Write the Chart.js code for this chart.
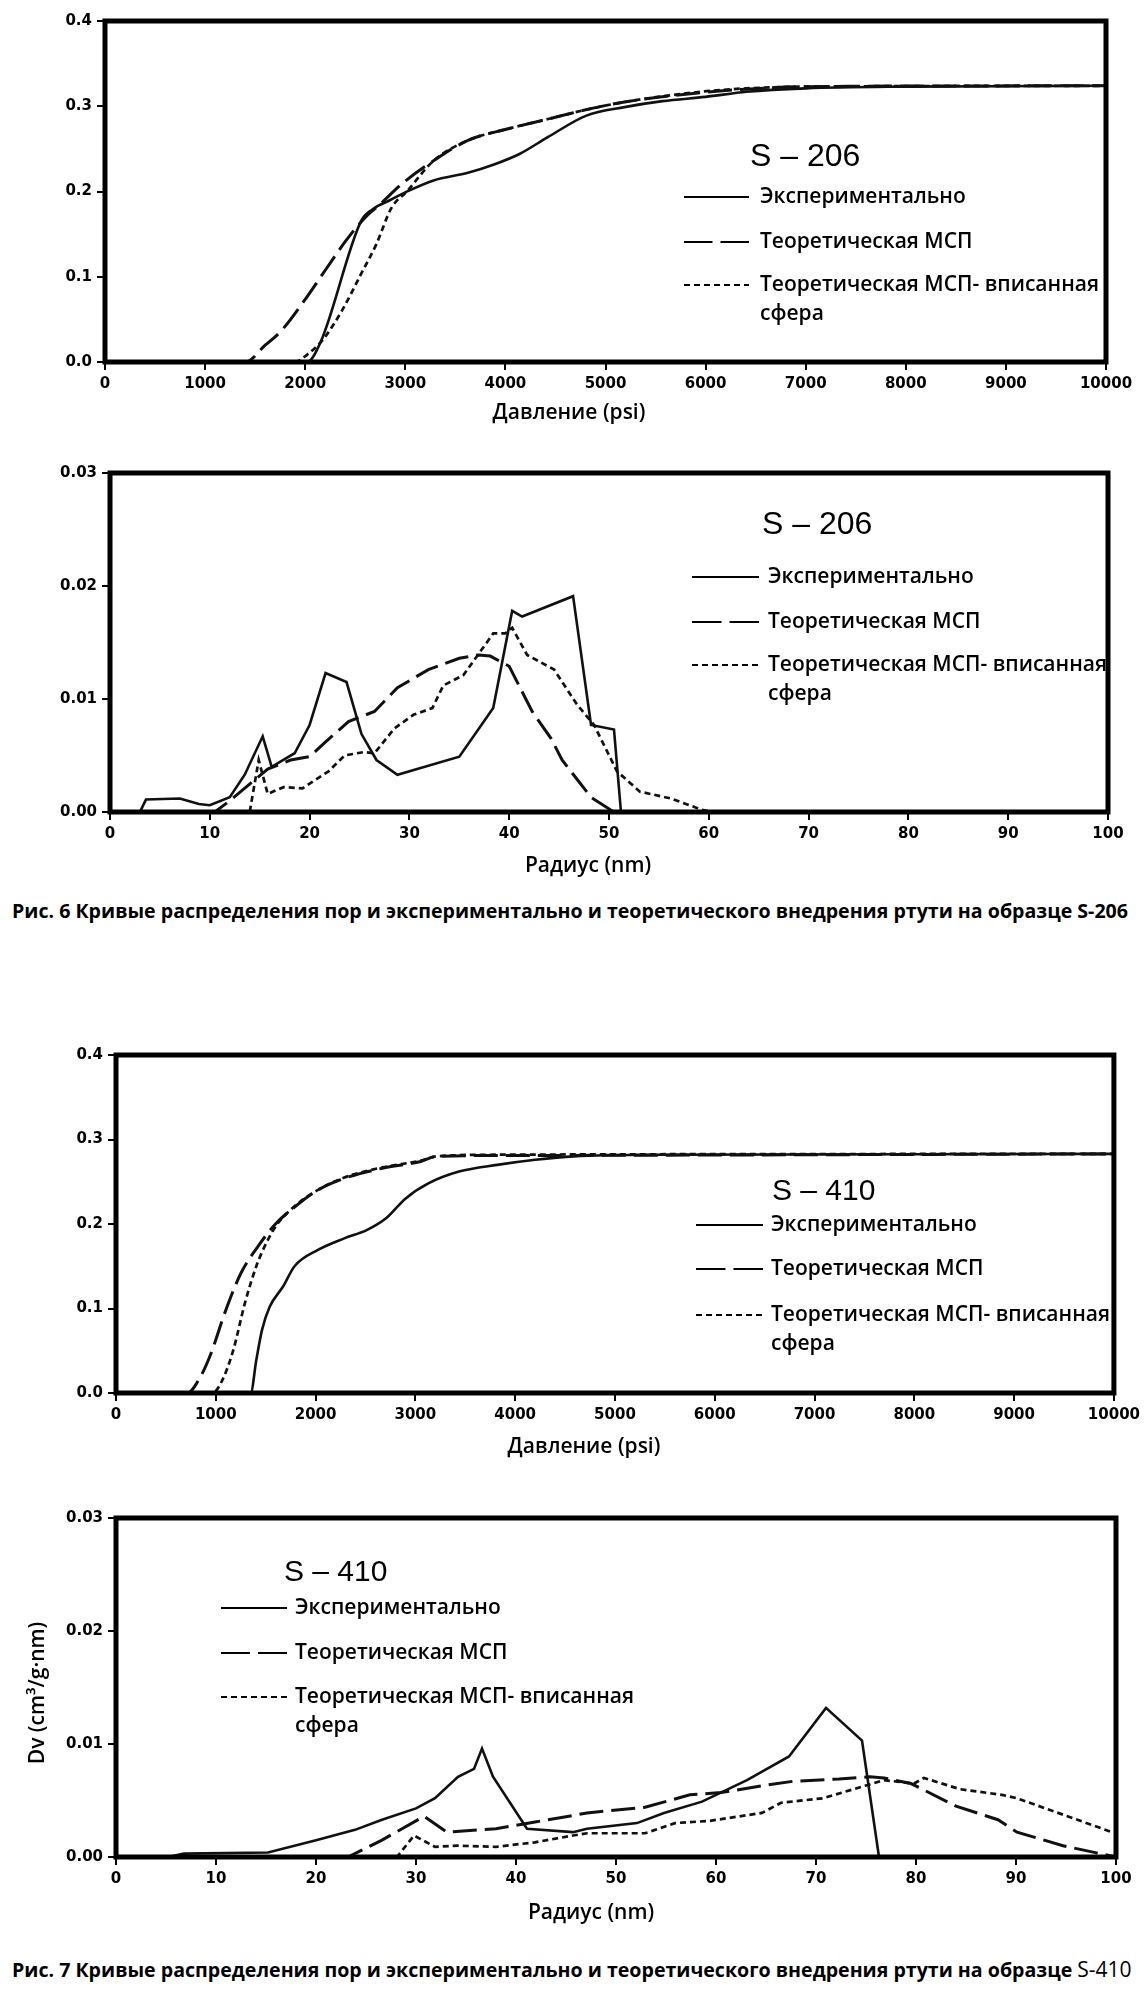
<!DOCTYPE html>
<html lang="ru">
<head>
<meta charset="utf-8">
<title>Кривые распределения пор S-206 / S-410</title>
<script src="https://cdn.jsdelivr.net/npm/chart.js@4.4.1/dist/chart.umd.min.js"></script>
<style>
  html, body { margin: 0; padding: 0; background: #fff; }
  body { position: relative; width: 1145px; height: 1991px; overflow: hidden; font-family: "Open Sans", sans-serif; }
  .plot { position: absolute; left: 0; width: 1145px; height: 440px; }
  .caption { position: absolute; left: 12px; font-weight: 700; font-size: 19.6px; color: #000; white-space: nowrap; line-height: 24px; }
  .caption .tag { font-weight: 400; font-size: 21px; }
</style>
</head>
<body>
<div class="plot" style="top:0"><canvas id="c1" width="1145" height="440"></canvas></div>
<div class="plot" style="top:450px"><canvas id="c2" width="1145" height="440"></canvas></div>
<div class="caption" style="top:899px">Рис. 6 Кривые распределения пор и экспериментально и теоретического внедрения ртути на образце S-206</div>
<div class="plot" style="top:1030px"><canvas id="c3" width="1145" height="440"></canvas></div>
<div class="plot" style="top:1495px"><canvas id="c4" width="1145" height="440"></canvas></div>
<div class="caption" style="top:1957px">Рис. 7 Кривые распределения пор и экспериментально и теоретического внедрения ртути на образце <span class="tag">S-410</span></div>
<script>
// series names (legend)
const seriesNames = ['Экспериментально', 'Теоретическая МСП', 'Теоретическая МСП- вписанная\nсфера'];

// tick labels
const pressTicks = [0, 1000, 2000, 3000, 4000, 5000, 6000, 7000, 8000, 9000, 10000];
const radiusTicks = [0, 10, 20, 30, 40, 50, 60, 70, 80, 90, 100];
const volTicks = [0, 0.1, 0.2, 0.3, 0.4];
const dvTicks = [0, 0.01, 0.02, 0.03];

// S-206: intrusion volume vs pressure (psi)
const exp206P = [[0,0],[2020,0],[2156,0.024],[2557,0.165],[2672,0.179],[2850,0.19],[3000,0.199],[3282,0.213],[3626,0.222],[3893,0.232],[4141,0.244],[4427,0.264],[4809,0.289],[5190,0.299],[5570,0.306],[6000,0.311],[6410,0.317],[7000,0.321],[8000,0.323],[10000,0.324]];
const msp206P = [[0,0],[1400,0],[1603,0.02],[1756,0.036],[1985,0.071],[2214,0.11],[2405,0.142],[2595,0.169],[2748,0.185],[2977,0.21],[3282,0.236],[3626,0.26],[4008,0.273],[4427,0.285],[4809,0.296],[5190,0.305],[5954,0.316],[6410,0.32],[7000,0.323],[10000,0.324]];
const sph206P = [[0,0],[1900,0],[2023,0.009],[2176,0.026],[2366,0.06],[2557,0.103],[2710,0.138],[2863,0.181],[3015,0.2],[3282,0.236],[3626,0.26],[4008,0.273],[4427,0.285],[4809,0.296],[5190,0.305],[5954,0.317],[6410,0.321],[7000,0.323],[10000,0.324]];

// S-206: Dv vs radius (nm)
const exp206R = [[0,0],[3,0],[3.6,0.0011],[7,0.0012],[8.9,0.0007],[10,0.0006],[12,0.0013],[13.5,0.0033],[15.3,0.0067],[16.2,0.004],[18.5,0.0052],[20,0.0077],[21.6,0.0123],[23.7,0.0115],[25.2,0.0069],[26.7,0.0046],[28.8,0.0033],[35,0.0049],[38.4,0.0092],[40.3,0.0178],[41.3,0.0173],[46.4,0.0191],[48.2,0.0077],[50.5,0.0073],[51.2,0],[100,0]];
const msp206R = [[0,0],[10.5,0],[12,0.001],[13.9,0.0024],[15.8,0.0038],[18.1,0.0046],[20,0.0049],[21.6,0.0062],[23.9,0.008],[26.5,0.0089],[28.8,0.011],[31.9,0.0126],[35,0.0136],[36.9,0.0139],[38.1,0.0138],[40,0.0129],[42.3,0.0089],[44.2,0.0065],[45.3,0.0046],[48.2,0.0013],[50.5,0],[100,0]];
const sph206R = [[0,0],[14,0],[14.9,0.0046],[15.8,0.0016],[17.4,0.0022],[19.3,0.0021],[21.9,0.0036],[23.5,0.005],[25.4,0.0053],[26.5,0.0052],[28.5,0.0074],[30.4,0.0086],[32.3,0.0092],[33.4,0.0112],[35.4,0.0121],[38.4,0.0158],[39.6,0.0158],[40.3,0.0163],[41.8,0.0139],[44.5,0.0126],[46.8,0.0095],[48.5,0.0077],[50.8,0.0036],[53.1,0.0018],[56.2,0.0012],[59.3,0.0002],[60.4,0],[100,0]];

// S-410: intrusion volume vs pressure (psi)
const exp410P = [[0,0],[1350,0],[1406,0.039],[1464,0.075],[1540,0.102],[1674,0.126],[1789,0.15],[2019,0.169],[2287,0.183],[2517,0.193],[2709,0.207],[2900,0.23],[3130,0.248],[3437,0.262],[3820,0.27],[4203,0.276],[4586,0.28],[5500,0.282],[10000,0.283]];
const msp410P = [[0,0],[716,0],[831,0.016],[946,0.045],[1100,0.098],[1253,0.142],[1444,0.177],[1598,0.2],[1789,0.22],[2019,0.24],[2287,0.254],[2670,0.266],[3054,0.274],[3207,0.28],[3820,0.281],[10000,0.283]];
const sph410P = [[0,0],[966,0],[1061,0.014],[1176,0.051],[1291,0.106],[1406,0.15],[1521,0.181],[1617,0.2],[1789,0.221],[2019,0.24],[2287,0.255],[2670,0.267],[3054,0.275],[3207,0.28],[3820,0.282],[10000,0.283]];

// S-410: Dv vs radius (nm)
const exp410R = [[0,0],[5.2,0],[6.8,0.0003],[15.2,0.0004],[20.1,0.0015],[23.9,0.0024],[26.6,0.0033],[30,0.0043],[31.9,0.0052],[34.2,0.0071],[35.8,0.0078],[36.6,0.0096],[37.7,0.0071],[41.1,0.0025],[45.7,0.0022],[47.1,0.0025],[52.1,0.003],[54.8,0.0039],[58.6,0.0049],[63.1,0.0068],[67.3,0.0089],[71,0.0132],[74.6,0.0103],[76.3,0],[100,0]];
const msp410R = [[0,0],[23.2,0],[26.6,0.0015],[30.8,0.0036],[33.1,0.0022],[38,0.0025],[41.9,0.0031],[45.3,0.0036],[47.1,0.0039],[52.9,0.0044],[57.4,0.0055],[60.5,0.0057],[64.6,0.0063],[67.7,0.0067],[72.3,0.0069],[75.4,0.0071],[76.8,0.007],[79.5,0.0065],[84,0.0045],[88.2,0.0033],[90.1,0.0022],[94.7,0.001],[100,0]];
const sph410R = [[0,0],[28.1,0],[29.8,0.0019],[31.9,0.0009],[34.2,0.001],[38,0.0009],[41.9,0.0013],[45.7,0.0019],[47.1,0.0021],[52.9,0.0021],[55.9,0.003],[59.4,0.0032],[64.6,0.0039],[66.5,0.0048],[70.7,0.0052],[74.9,0.0063],[76.8,0.0068],[79.8,0.0065],[80.8,0.007],[84.4,0.006],[88.6,0.0055],[90.1,0.0052],[93.9,0.004],[99.6,0.0022]];

// line look per series: solid, long dash, short dash
const lineStyles = [
  { width: 2.6, dash: [] },
  { width: 3, dash: [24, 8] },
  { width: 2.7, dash: [6, 4] }
];

const tickFont = { family: '"DejaVu Sans"', size: 15, weight: 'bold' };
const CW = 1145, CH = 440;

// thick black box round the plot area
const framePlugin = {
  id: 'frame',
  afterDatasetsDraw(chart) {
    const { ctx, chartArea: a } = chart;
    ctx.save();
    ctx.lineWidth = 5;
    ctx.strokeStyle = '#000';
    ctx.strokeRect(a.left, a.top, a.right - a.left, a.bottom - a.top);
    ctx.restore();
  }
};

// legend inside the plot + axis titles
function insetPlugin(o) {
  return {
    id: 'inset',
    afterDraw(chart) {
      const ctx = chart.ctx;
      ctx.save();
      ctx.fillStyle = '#000';
      ctx.strokeStyle = '#000';
      ctx.textBaseline = 'middle';
      ctx.font = '400 ' + o.titleSize + 'px "Liberation Sans"';
      ctx.fillText(o.title, o.titleX, o.titleY);
      ctx.font = '600 21px "Open Sans"';
      chart.data.datasets.forEach((ds, i) => {
        const y = o.rows[i];
        let dash = ds.borderDash || [];
        // long dash sample: two dashes filling the sample width
        if (dash.length && dash[0] > 10) dash = [(o.sampleW - dash[1]) / 2, dash[1]];
        ctx.beginPath();
        ctx.setLineDash(dash);
        ctx.lineWidth = 2;
        ctx.moveTo(o.sampleX, y);
        ctx.lineTo(o.sampleX + o.sampleW, y);
        ctx.stroke();
        ds.label.split('\n').forEach((line, k) => ctx.fillText(line, o.textX, y + k * 29));
      });
      ctx.setLineDash([]);
      ctx.textAlign = 'center';
      ctx.fillText(o.xTitle, o.xTitleX, o.xTitleY);
      if (o.yTitle) {
        ctx.translate(o.yTitleX, o.yTitleY);
        ctx.rotate(-Math.PI / 2);
        ctx.fillText(o.yTitle, 0, 0);
      }
      ctx.restore();
    }
  };
}

function makeChart(id, cfg) {
  const a = cfg.area;
  return new Chart(document.getElementById(id), {
    type: 'line',
    data: {
      datasets: cfg.series.map((pts, i) => ({
        label: seriesNames[i],
        data: pts.map(([x, y]) => ({ x, y })),
        borderColor: '#111',
        borderWidth: lineStyles[i].width,
        borderDash: lineStyles[i].dash,
        pointRadius: 0,
        cubicInterpolationMode: cfg.smooth ? 'monotone' : 'default',
        tension: 0,
        fill: false
      }))
    },
    options: {
      responsive: false,
      animation: false,
      events: [],
      layout: { padding: { top: a.top, right: CW - a.right, left: 0, bottom: 0 } },
      plugins: { legend: { display: false }, tooltip: { enabled: false } },
      scales: {
        x: {
          type: 'linear',
          min: 0,
          max: cfg.xTicks[cfg.xTicks.length - 1],
          afterBuildTicks: s => { s.ticks = cfg.xTicks.map(v => ({ value: v })); },
          afterFit: s => { s.height = CH - a.bottom; },
          border: { display: false },
          grid: { drawOnChartArea: false, drawTicks: true, tickLength: 8, lineWidth: 2, color: '#000' },
          ticks: { font: tickFont, color: '#000', padding: 5, maxRotation: 0, autoSkip: false, callback: v => String(v) }
        },
        y: {
          min: 0,
          max: cfg.yTicks[cfg.yTicks.length - 1],
          afterBuildTicks: s => { s.ticks = cfg.yTicks.map(v => ({ value: v })); },
          afterFit: s => { s.width = a.left; },
          border: { display: false },
          grid: { drawOnChartArea: false, drawTicks: true, tickLength: 8, lineWidth: 2, color: '#000' },
          ticks: { font: tickFont, color: '#000', padding: 5, autoSkip: false, callback: v => v.toFixed(cfg.decimals) }
        }
      }
    },
    plugins: [framePlugin, insetPlugin(cfg.legend)]
  });
}

makeChart('c1', {
  series: [exp206P, msp206P, sph206P], smooth: true,
  xTicks: pressTicks, yTicks: volTicks, decimals: 1,
  area: { left: 105, top: 21, right: 1106, bottom: 362 },
  legend: { title: 'S – 206', titleSize: 32, titleX: 750, titleY: 157, sampleX: 684, sampleW: 65, textX: 760,
            rows: [197, 242, 285], xTitle: 'Давление (psi)', xTitleX: 569, xTitleY: 413 }
});

makeChart('c2', {
  series: [exp206R, msp206R, sph206R], smooth: false,
  xTicks: radiusTicks, yTicks: dvTicks, decimals: 2,
  area: { left: 110, top: 23, right: 1108, bottom: 362 },
  legend: { title: 'S – 206', titleSize: 32, titleX: 762, titleY: 75, sampleX: 692, sampleW: 67, textX: 768,
            rows: [127, 172, 215], xTitle: 'Радиус (nm)', xTitleX: 588, xTitleY: 416 }
});

makeChart('c3', {
  series: [exp410P, msp410P, sph410P], smooth: true,
  xTicks: pressTicks, yTicks: volTicks, decimals: 1,
  area: { left: 116, top: 25, right: 1115, bottom: 363 },
  legend: { title: 'S – 410', titleSize: 30, titleX: 772, titleY: 162, sampleX: 696, sampleW: 67, textX: 771,
            rows: [195, 239, 285], xTitle: 'Давление (psi)', xTitleX: 584, xTitleY: 417 }
});

makeChart('c4', {
  series: [exp410R, msp410R, sph410R], smooth: false,
  xTicks: radiusTicks, yTicks: dvTicks, decimals: 2,
  area: { left: 116, top: 23, right: 1116, bottom: 362 },
  legend: { title: 'S – 410', titleSize: 30, titleX: 284, titleY: 78, sampleX: 221, sampleW: 66, textX: 295,
            rows: [113, 158, 202], xTitle: 'Радиус (nm)', xTitleX: 591, xTitleY: 418,
            yTitle: 'Dv (cm³/g·nm)', yTitleX: 38, yTitleY: 198 }
});
</script>
</body>
</html>
